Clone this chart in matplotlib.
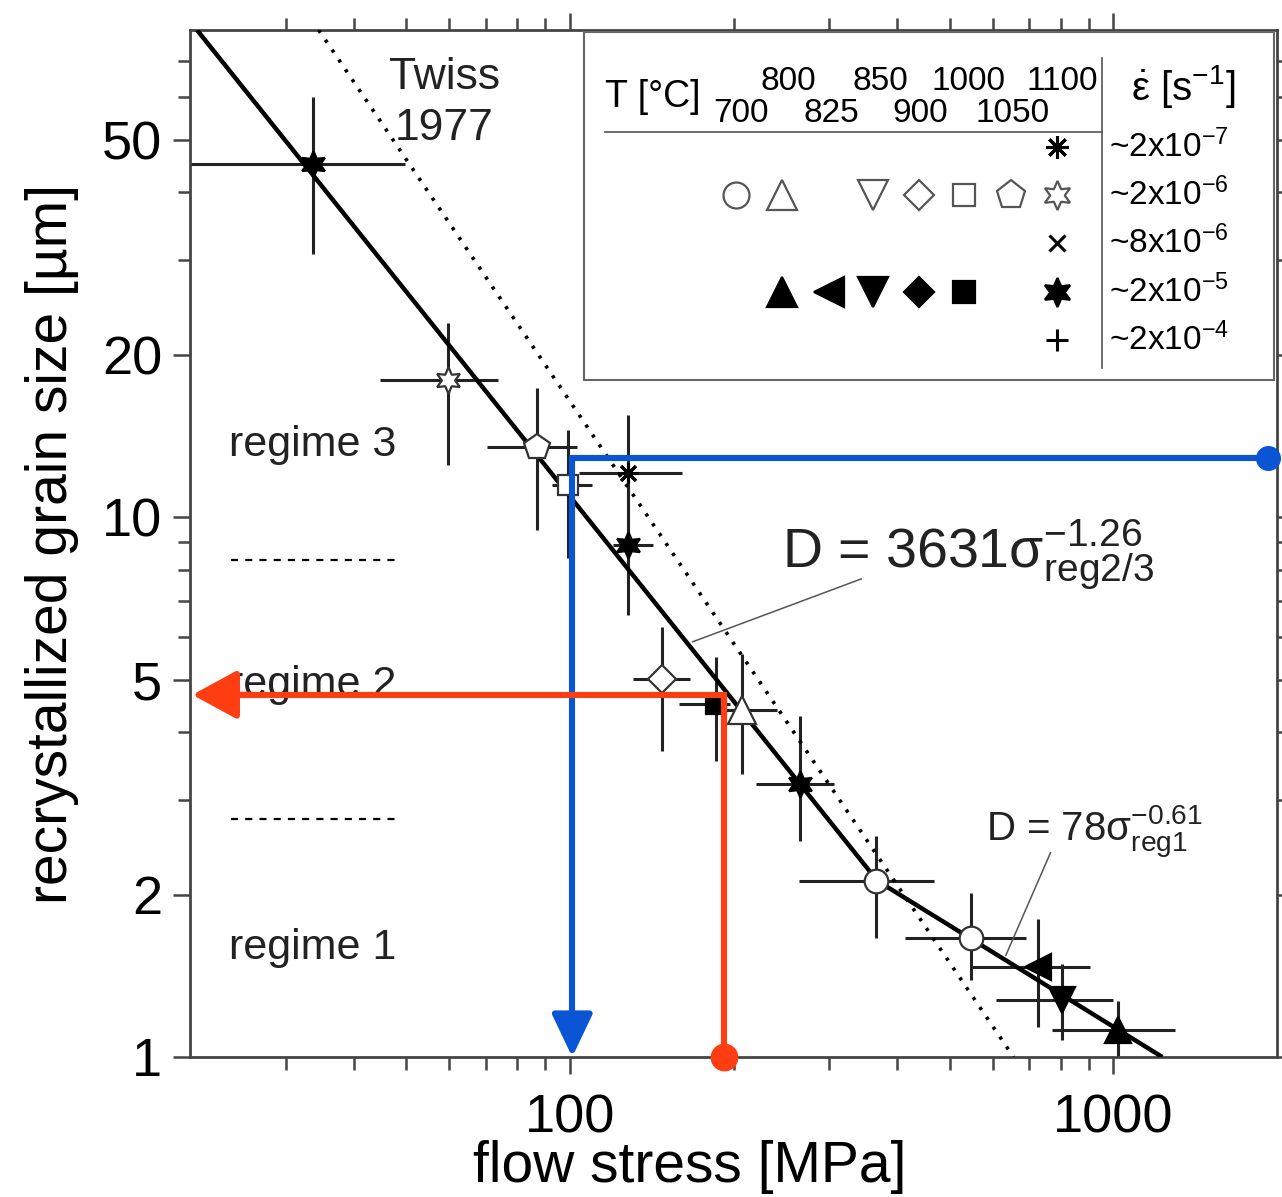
import matplotlib
matplotlib.use("Agg")
import matplotlib.pyplot as plt
from matplotlib.patches import Rectangle
from matplotlib.ticker import FixedLocator, FixedFormatter, NullFormatter

plt.rcParams["font.family"] = ["Liberation Sans", "DejaVu Sans"]
plt.rcParams["mathtext.fontset"] = "custom"
plt.rcParams["mathtext.rm"] = "Liberation Sans"
plt.rcParams["mathtext.it"] = "Liberation Sans:italic"
plt.rcParams["mathtext.bf"] = "Liberation Sans:bold"

# ---- data (flow stress in MPa, grain size in um) ----
sigma = [33.7, 59.7, 87.0, 99.0, 127.8, 128.0, 148.0, 186.0, 207.0, 265.0,
         366.0, 548.0, 728.0, 803.0, 1021.0]
grain = [45.2, 18.0, 13.5, 11.5, 12.1, 8.88, 5.02, 4.50, 4.40, 3.20,
         2.12, 1.665, 1.466, 1.274, 1.12]
sigma_lo = [15.0, 44.8, 70.5, 92.7, 104.0, 120.0, 130.5, 159.0, 190.0, 220.0,
            264.0, 414.0, 548.0, 607.0, 770.0]
sigma_hi = [49.8, 73.8, 103.0, 109.7, 160.5, 142.0, 166.0, 197.0, 240.0, 306.0,
            468.0, 690.0, 907.0, 1000.0, 1300.0]
grain_lo = [30.8, 12.5, 9.46, 8.4, 9.4, 6.6, 3.69, 3.53, 3.34, 2.51,
            1.66, 1.387, 1.136, 1.075, 1.0]
grain_hi = [60.0, 22.9, 17.4, 14.5, 15.5, 12.1, 6.27, 5.52, 5.59, 4.28,
            2.57, 2.01, 1.805, 1.49, 1.27]
symbol = ["star_f", "star_o", "pent_o", "sq_o", "ast", "star_f", "dia_o", "sq_f",
          "tri_o", "star_f", "circ_o", "circ_o", "ltri_f", "dtri_f", "tri_f"]

# fitted power laws (end points of the drawn segments)
fit_sigma = [20.6, 368.0, 1230.0]
fit_grain = [80.0, 2.12, 1.0]
twiss_sigma = [34.5, 655.0]
twiss_grain = [80.0, 1.0]

# regime boundaries (short dashed marks on the left)
regime_bounds = [8.33, 2.76]
regime_sigma = [23.8, 47.7]
regime_names = ["regime 3", "regime 2", "regime 1"]
regime_text_y = [13.6, 4.90, 1.589]

# highlighted reading lines
blue_sigma, blue_grain = 101.0, 12.9
red_sigma, red_grain = 192.0, 4.69

# legend content
temps_top = ["800", "850", "1000", "1100"]
temps_bottom = ["700", "825", "900", "1050"]
rates = ["~2x10$^{-7}$", "~2x10$^{-6}$", "~8x10$^{-6}$", "~2x10$^{-5}$", "~2x10$^{-4}$"]
legend_rows = [
    ["ast"],
    ["circ_o", "tri_o", "dtri_o", "dia_o", "sq_o", "pent_o", "star_o"],
    ["x"],
    ["tri_f", "ltri_f", "dtri_f", "dia_f", "sq_f", "star_f"],
    ["plus"],
]
legend_cols = [
    [1057],
    [736, 782, 873, 919, 964, 1011, 1057],
    [1057],
    [782, 829, 873, 919, 964, 1057],
    [1057],
]

# ---- styles ----
GRAY = "#444444"
BLUE = "#0a55d6"
RED = "#ff3d12"
STYLE = {
    "circ_o": ("o", "white", 17),
    "tri_o": ("^", "white", 20),
    "dtri_o": ("v", "white", 19),
    "dia_o": ("D", "white", 14),
    "sq_o": ("s", "white", 15),
    "pent_o": ("p", "white", 19),
    "star_o": ((6, 1, 0), "white", 19),
    "tri_f": ("^", "black", 19),
    "ltri_f": ("<", "black", 19),
    "dtri_f": ("v", "black", 19),
    "dia_f": ("D", "black", 14),
    "sq_f": ("s", "black", 14),
    "star_f": ((6, 1, 0), "black", 19),
    "ast": ((8, 2, 0), "black", 15),
    "x": ("x", "black", 11),
    "plus": ("+", "black", 15),
}


def draw_symbol(ax, x, y, key, transform=None, edge=GRAY, scale=1.0, z=5):
    m, fc, ms = STYLE[key]
    kw = dict(marker=m, ms=ms * scale, mfc=fc, mec=edge if fc == "white" else "black",
              mew=1.6 if key not in ("ast", "x", "plus") else 2.2, ls="none", zorder=z,
              clip_on=False)
    if transform is not None:
        kw["transform"] = transform
    ax.plot([x], [y], **kw)


fig = plt.figure(figsize=(12.82, 11.97), dpi=100)
ax = fig.add_axes([190 / 1282, 1 - 1057 / 1197, 1087 / 1282, 1027 / 1197])
ax.set_xscale("log")
ax.set_yscale("log")
ax.set_xlim(20, 2000)
ax.set_ylim(1, 80)

# error bars + symbols
for i in range(len(sigma)):
    ax.errorbar([sigma[i]], [grain[i]],
                xerr=[[sigma[i] - sigma_lo[i]], [sigma_hi[i] - sigma[i]]],
                yerr=[[grain[i] - grain_lo[i]], [grain_hi[i] - grain[i]]],
                fmt="none", ecolor="#222222", elinewidth=2.2, capsize=0, zorder=2)

ax.plot(fit_sigma, fit_grain, color="black", lw=3.2, zorder=3, solid_capstyle="butt")
ax.plot(twiss_sigma, twiss_grain, color="black", lw=2.6, ls=(0, (0.9, 2.4)), zorder=3)

for i in range(len(sigma)):
    draw_symbol(ax, sigma[i], grain[i], symbol[i], edge="#333333")

# regime marks
for yb in regime_bounds:
    ax.plot(regime_sigma, [yb, yb], color="black", lw=1.6, ls=(0, (3.2, 3.2)), zorder=3)
for name, yt in zip(regime_names, regime_text_y):
    ax.text(33.7, yt, name, ha="center", va="center", fontsize=31, color="#222222")

ax.text(58.8, 58.6, "Twiss\n1977", ha="center", va="center", fontsize=32,
        linespacing=1.3, color="#222222")

# equations with leader lines
ax.text(246, 8.06, "D = 3631$\\mathrm{σ}^{-1.26}_{\\mathrm{reg2/3}}$", fontsize=40,
        ha="left", va="baseline", color="#222222")
ax.plot([343.6, 168.2], [7.69, 5.88], color="#555555", lw=1.1, zorder=3)
ax.text(584, 2.51, "D = 78$\\mathrm{σ}^{-0.61}_{\\mathrm{reg1}}$", fontsize=29,
        ha="left", va="baseline", color="#222222")
ax.plot([766, 634], [2.39, 1.543], color="#555555", lw=1.1, zorder=3)

# ---- legend box (axes-fraction coordinates from pixel positions) ----
def fx(px):
    return (px - 190) / 1087


def fy(py):
    return (1057 - py) / 1027


T = ax.transAxes
ax.add_patch(Rectangle((fx(584), fy(380)), fx(1274) - fx(584), fy(32) - fy(380),
                       transform=T, fill=False, ec="#666666", lw=1.5, zorder=4))
ax.plot([fx(605), fx(1102)], [fy(132), fy(132)], transform=T, color="#555555", lw=1.2)
ax.plot([fx(1102), fx(1102)], [fy(58), fy(368)], transform=T, color="#555555", lw=1.2)
ax.text(fx(653), fy(97), "T [°C]", transform=T, ha="center", va="center", fontsize=27)
for lab, px in zip(temps_top, [788, 880, 968, 1062]):
    ax.text(fx(px), fy(82), lab, transform=T, ha="center", va="center", fontsize=24)
for lab, px in zip(temps_bottom, [741, 831, 920, 1013]):
    ax.text(fx(px), fy(113), lab, transform=T, ha="center", va="center", fontsize=24)
ax.text(fx(1183), fy(86), "$\\dot{\\mathrm{ε}}$ [s$^{-1}$]", transform=T,
        ha="center", va="center", fontsize=29)
row_y = [147, 195, 243, 292, 340]
for lab, py in zip(rates, row_y):
    ax.text(fx(1109), fy(py), lab, transform=T, ha="left", va="center", fontsize=24)
for keys, cols, py in zip(legend_rows, legend_cols, row_y):
    for key, px in zip(keys, cols):
        draw_symbol(ax, fx(px), fy(py), key, transform=T, edge="#555555", scale=1.1, z=6)

# ---- highlighted reading lines ----
ax.plot([1925, blue_sigma, blue_sigma], [blue_grain, blue_grain, 1.13], color=BLUE,
        lw=4.4, zorder=8, clip_on=False, solid_joinstyle="miter")
ax.annotate("", xy=(blue_sigma, 1.0), xytext=(blue_sigma, 1.2),
            arrowprops=dict(arrowstyle="-|>,head_length=1.05,head_width=0.5", color=BLUE,
                            lw=4.4, shrinkA=0, shrinkB=0, mutation_scale=25),
            zorder=8, annotation_clip=False)
ax.plot([1925], [blue_grain], "o", color=BLUE, ms=17, zorder=9, clip_on=False)

ax.plot([red_sigma, red_sigma, 23.5], [1.0, red_grain, red_grain], color=RED,
        lw=4.4, zorder=8, clip_on=False, solid_joinstyle="miter")
ax.annotate("", xy=(20.2, red_grain), xytext=(26, red_grain),
            arrowprops=dict(arrowstyle="-|>,head_length=1.1,head_width=0.6", color=RED,
                            lw=4.4, shrinkA=0, shrinkB=0, mutation_scale=25),
            zorder=8, annotation_clip=False)
ax.plot([red_sigma], [1.0], "o", color=RED, ms=19, zorder=9, clip_on=False)

# ---- axes styling ----
ax.yaxis.set_major_locator(FixedLocator([1, 2, 5, 10, 20, 50]))
ax.yaxis.set_major_formatter(FixedFormatter(["1", "2", "5", "10", "20", "50"]))
ax.yaxis.set_minor_locator(FixedLocator([3, 4, 6, 7, 8, 9, 30, 40, 60, 70]))
ax.yaxis.set_minor_formatter(NullFormatter())
ax.xaxis.set_major_locator(FixedLocator([100, 1000]))
ax.xaxis.set_major_formatter(FixedFormatter(["100", "1000"]))
ax.xaxis.set_minor_locator(FixedLocator([30, 40, 50, 60, 70, 80, 90,
                                         200, 300, 400, 500, 600, 700, 800, 900]))
ax.xaxis.set_minor_formatter(NullFormatter())
ax.tick_params(which="both", direction="out", top=True, right=True, color=GRAY,
               width=1.8, labelsize=39)
ax.tick_params(axis="y", pad=8)
ax.tick_params(axis="x", pad=14)
ax.tick_params(which="major", length=12)
ax.tick_params(which="minor", length=9)
for sp in ax.spines.values():
    sp.set_color(GRAY)
    sp.set_linewidth(2.0)

ax.set_xlabel("flow stress [MPa]", fontsize=41)
ax.set_ylabel("recrystallized grain size [µm]", fontsize=41)
ax.xaxis.set_label_coords(fx(690), fy(1140))
ax.yaxis.set_label_coords(fx(79), 0.5)

fig.savefig("out.png", dpi=100)
